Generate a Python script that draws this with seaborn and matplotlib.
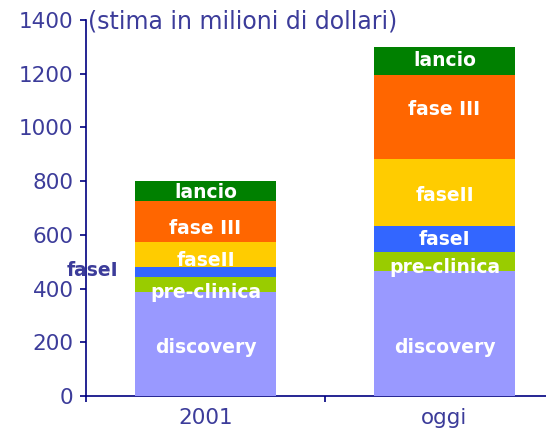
import matplotlib
matplotlib.use("Agg")
import matplotlib.pyplot as plt
import seaborn as sns
import pandas as pd
import numpy as np

periods = ["2001", "oggi"]
stages = ["discovery", "pre-clinica", "faseI", "faseII", "fase III", "lancio"]
vals_2001 = [387, 56, 37, 93, 152, 77]
vals_oggi = [465, 71, 97, 249, 314, 102]
colors = ["#9999ff", "#99cc00", "#3366ff", "#ffcc00", "#ff6600", "#008000"]
# vertical placement of the stage labels (data units)
label_y_2001 = [179, 387, 469, 506, 625, 756]
label_y_oggi = [179, 477, 581, 748, 1065, 1251]
subtitle = "(stima in milioni di dollari)"
yticks = [0, 200, 400, 600, 800, 1000, 1200, 1400]

sns.set_style("white")
plt.rcParams["font.family"] = ["DejaVu Sans"]

txt_col = "#3c3c9a"
axis_col = "#000080"

fig = plt.figure(figsize=(5.46, 4.32), dpi=100)
ax = fig.add_axes([86 / 546, 36 / 432, 460 / 546, 376 / 432])

data = np.array([vals_2001, vals_oggi], dtype=float)
cum = np.cumsum(data, axis=1)

for i in range(len(stages) - 1, -1, -1):
    df = pd.DataFrame({"period": periods, "value": cum[:, i]})
    sns.barplot(data=df, x="period", y="value", color=colors[i], width=0.594,
                saturation=1, ax=ax, order=periods, linewidth=0, zorder=2 + (len(stages) - i))

ax.set_yticks(yticks)
ax.set_xticks([-0.5, 0.5, 1.5], minor=True)
ax.set_xlim(-0.5, -0.5 + 460 / 239)
ax.set_ylim(0, 1400)
ax.set_xlabel("")
ax.set_ylabel("")

for s in ["top", "right"]:
    ax.spines[s].set_visible(False)
for s in ["left", "bottom"]:
    ax.spines[s].set_color(axis_col)
    ax.spines[s].set_linewidth(1.2)

ax.tick_params(axis="y", which="both", left=True, length=4.5, width=1.2, color=axis_col,
               labelsize=15.5, labelcolor=txt_col, pad=4.5)
ax.tick_params(axis="x", which="major", bottom=False, labelsize=15.5, labelcolor=txt_col, pad=5)
ax.tick_params(axis="x", which="minor", bottom=True, length=4.5, width=1.2, color=axis_col, direction="out")
ax.grid(False)

label_ys = [label_y_2001, label_y_oggi]
for j, p in enumerate(periods):
    for i, st in enumerate(stages):
        y = label_ys[j][i]
        if p == "2001" and st == "faseI":
            ax.text(-0.366, y, st, ha="right", va="center", color=txt_col,
                    fontsize=13.5, fontweight="bold", zorder=20, clip_on=False)
            continue
        ax.text(j, y, st, ha="center", va="center", color="white",
                fontsize=13.5, fontweight="bold", zorder=20)

fig.text(88 / 546, 1 - 21 / 432, subtitle, ha="left", va="center", fontsize=17, color=txt_col)

fig.savefig("out.png", dpi=100)
